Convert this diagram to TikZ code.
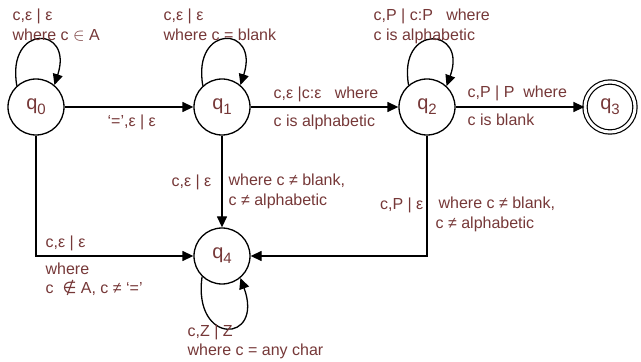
\documentclass[tikz,border=0pt]{standalone}
\usepackage{fontspec}
\setmainfont{Liberation Sans}
\newfontfamily\symfont{DejaVu Sans}
\usetikzlibrary{arrows.meta}
\definecolor{lbl}{RGB}{118,56,56}
\newcommand{\qs}[1]{\fontsize{20}{20}\selectfont q\raisebox{-5pt}{\fontsize{15}{15}\selectfont #1}}
\begin{document}
\begin{tikzpicture}[x=1pt,y=1pt,
  every path/.style={line width=1.3pt},
  >={Triangle[length=11pt,width=10pt]},
  state/.style={circle,draw,minimum size=56pt,inner sep=0pt,text=lbl},
  accstate/.style={circle,draw,double,double distance=3pt,line width=1.2pt,minimum size=50pt,inner sep=0pt,text=lbl},
  lab/.style={text=lbl,inner sep=0pt,align=left,font=\fontsize{16}{19.5}\selectfont}]
\useasboundingbox (0,0) rectangle (641,362);
\node[state] (q0) at (36,255) {\qs{0}};
\node[state] (q1) at (222,255) {\qs{1}};
\node[state] (q2) at (427,255) {\qs{2}};
\node[accstate] (q3) at (610,255) {\qs{3}};
\node[state] (q4) at (222,106) {\qs{4}};
% straight edges
\draw[->] (q0) -- (q1);
\draw[->] (q1) -- (q2);
\draw[->] (q2) -- (q3);
\draw[->] (q1) -- (q4);
\draw[->] (q0) |- (q4);
\draw[->] (q2) |- (q4);
% loops
\draw[->] (q0.132) .. controls +(100:63) and +(72:63) .. (q0.50);
\draw[->] (q1.132) .. controls +(100:63) and +(72:63) .. (q1.50);
\draw[->] (q2.130) .. controls +(100:63) and +(70:63) .. (q2.47);
\draw[->] (q4.226) .. controls +(262:70) and +(290:70) .. (q4.310);
% labels
\node[lab,anchor=west] (l0) at (12,337) {c,ε | ε\\where c $\in$ A};
\node[lab,anchor=west] (l1) at (163,337) {c,ε | ε\\where c = blank};
\node[lab,anchor=west] (l01) at (107,240) {‘=’,ε | ε};
\node[lab,anchor=west] (l12a) at (273,268) {c,ε |c:ε\ \ \ where};
\node[lab,anchor=west] (l12b) at (273,240) {c is alphabetic};
\node[lab,anchor=west] (l2) at (373,335.5) {c,P | c:P\ \ \ where\\c is alphabetic};
\node[lab,anchor=west] (l23a) at (467,269) {c,P | P\ \ where};
\node[lab,anchor=west] (l23b) at (467,242) {c is blank};
\node[lab,anchor=east] (l14a) at (212,180) {c,ε | ε};
\node[lab,anchor=west] (l14b) at (228,170.5) {where c ≠ blank,\\c ≠ alphabetic};
\node[lab,anchor=west] (l04a) at (45,119) {c,ε | ε};
\node[lab,anchor=west] (l04b) at (45,82.5) {where\\c\ \ {\symfont ∉} A, c ≠ ‘=’};
\node[lab,anchor=west] (l4) at (187,20) {c,Z | Z\\where c = any char};
\node[lab,anchor=east] (l24a) at (424,157) {c,P | ε};
\node[lab,anchor=west] (l24b) at (435,147.5) {\hspace{3pt}where c ≠ blank,\\c ≠ alphabetic};
\end{tikzpicture}
\end{document}
